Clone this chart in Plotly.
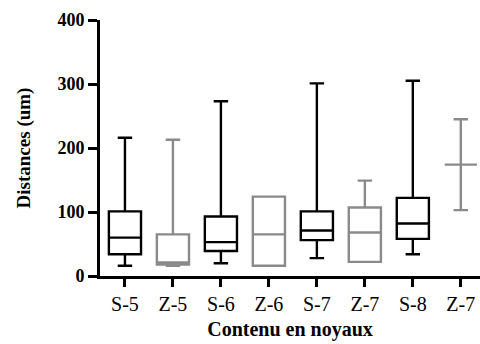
import plotly.graph_objects as go

# categories (the last label is repeated in the source figure)
labels = ["S-5", "Z-5", "S-6", "Z-6", "S-7", "Z-7", "S-8", "Z-7"]
lower = [16, 16, 20, 16, 28, 22, 34, 103]
q1 = [34, 18, 39, 16, 56, 22, 58, 174]
median = [60, 21, 53, 65, 71, 68, 82, 174]
q3 = [101, 65, 93, 124, 101, 107, 122, 174]
upper = [216, 213, 273, 124, 301, 149, 305, 245]
colors = ["#000000", "#8a8a8a"] * 4

font = "Liberation Serif"

fig = go.Figure()
for i, lab in enumerate(labels):
    fig.add_trace(go.Box(
        x=[i], q1=[q1[i]], median=[median[i]], q3=[q3[i]],
        lowerfence=[lower[i]], upperfence=[upper[i]],
        name=lab, width=0.67, whiskerwidth=0.45,
        line=dict(color=colors[i], width=2.4),
        fillcolor="rgba(0,0,0,0)", boxpoints=False,
        showlegend=False,
    ))

fig.update_layout(
    width=480, height=344,
    margin=dict(l=100, r=0, t=20, b=68),
    plot_bgcolor="white", paper_bgcolor="white",
    boxmode="overlay",
    font=dict(family=font, color="black"),
)
fig.update_xaxes(
    range=[-0.52, 7.4], tickvals=list(range(len(labels))), ticktext=labels,
    showline=True, linecolor="black", linewidth=3,
    ticks="outside", ticklen=8, tickwidth=3, tickcolor="black",
    showgrid=False, zeroline=False,
    tickfont=dict(size=20, family=font),
    title=dict(text="<b>Contenu en noyaux</b>", font=dict(size=20, family=font), standoff=8),
)
fig.update_yaxes(
    range=[0, 400], tickvals=[0, 100, 200, 300, 400],
    ticktext=["<b>%d</b>" % v for v in [0, 100, 200, 300, 400]],
    showline=True, linecolor="black", linewidth=3,
    ticks="outside", ticklen=9, tickwidth=3, tickcolor="black",
    showgrid=False, zeroline=False,
    tickfont=dict(size=18, family=font),
    title=dict(text="<b>Distances (um)</b>", font=dict(size=19, family=font), standoff=22),
)

fig.write_html("out.html", config={"displayModeBar": False},
               post_script="document.body.style.margin='0';")
